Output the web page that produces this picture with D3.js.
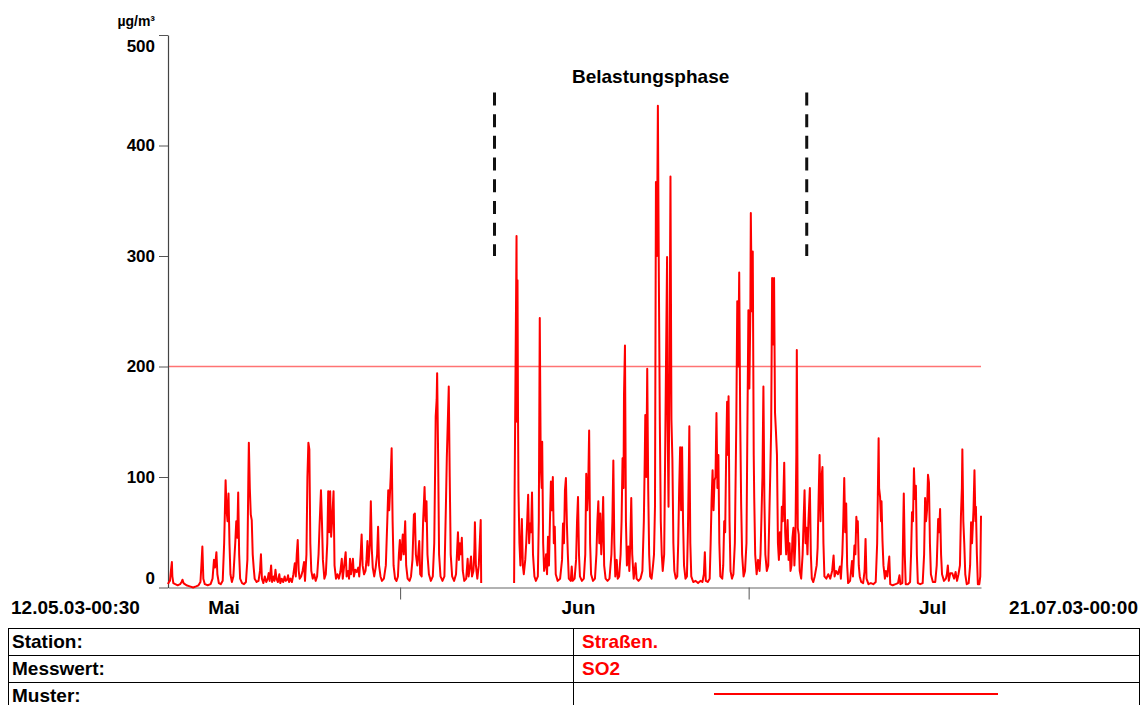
<!DOCTYPE html>
<html>
<head>
<meta charset="utf-8">
<script src="https://cdn.jsdelivr.net/npm/d3@7"></script>
<style>
  html, body { margin: 0; padding: 0; background: #fff; }
  svg { display: block; font-family: "Liberation Sans", Arial, sans-serif; font-weight: bold; }
</style>
</head>
<body>
<svg id="chart" width="1141" height="705"></svg>
<script>
// Half-hourly SO2 record, station "Straßen.", 12.05.2003 00:30 – 21.07.2003 00:00
// Points: [hours since 12.05.03 00:30, µg/m³]
const so2Mai = [
[0,3],[2,5],[4,6],[6,15],[8,23],[9,10],[11,4],[15,3],[20,2],[25,3],[28,5],[30,7],[32,4],[38,2],[45,1],[52,0],[58,1],[63,2],[67,5],[69,20],[71,37],[73,8],[76,3],[82,2],[88,3],[92,8],[95,25],[97,18],[100,32],[102,12],[105,4],[109,3],[113,6],[116,40],[119,97],[121,70],[123,60],[125,85],[127,40],[129,12],[132,5],[135,10],[139,41],[141,60],[143,45],[145,86],[147,30],[149,8],[153,4],[157,3],[161,5],[164,25],[166,100],[167,131],[169,90],[171,66],[173,61],[175,30],[177,18],[179,8],[183,5],[187,6],[190,15],[192,30],[194,8],[197,4],[200,10],[203,5],[206,8],[208,13],[210,6],[213,20],[215,5],[218,10],[220,6],[222,16],[224,8],[227,5],[230,12],[232,4],[235,8],[238,5],[241,10],[243,6],[246,7],[248,11],[250,5],[253,8],[256,5],[259,12],[262,22],[264,10],[266,30],[268,43],[270,15],[272,8],[275,10],[278,15],[281,23],[283,6],[286,30],[288,100],[290,131],[292,125],[294,40],[296,15],[299,8],[302,12],[305,6],[308,10],[311,30],[313,55],[316,88],[318,60],[320,25],[323,8],[326,12],[329,40],[331,87],[333,50],[335,87],[337,46],[339,60],[342,87],[344,20],[347,8],[350,12],[353,8],[356,14],[359,26],[361,8],[364,20],[367,32],[369,10],[372,15],[374,8],[376,26],[378,12],[380,18],[382,26],[384,10],[387,16],[390,14],[393,18],[395,10],[398,30],[400,48],[402,20],[405,12],[408,15],[410,25],[412,42],[414,20],[417,40],[419,78],[421,35],[423,18],[426,10],[429,18],[432,30],[434,55],[436,20],[439,10],[442,6],[446,8],[450,20],[453,60],[455,88],[457,70],[460,100],[462,126],[464,60],[466,20],[469,8],[472,6],[475,10],[477,30],[479,43],[481,25],[483,35],[485,48],[487,30],[490,60],[492,20],[495,8],[499,6],[502,10],[505,25],[508,66],[510,67],[512,30],[515,20],[517,30],[519,42],[521,12],[524,10],[527,60],[529,80],[530,91],[532,60],[534,78],[536,30],[539,12],[543,6],[547,10],[550,40],[552,113],[553,155],[555,170],[556,194],[558,120],[560,30],[563,10],[567,6],[571,10],[574,72],[576,118],[578,150],[580,182],[582,100],[584,30],[587,10],[591,6],[595,12],[597,31],[599,50],[601,25],[603,40],[605,30],[607,45],[609,15],[612,6],[616,8],[619,26],[621,10],[624,20],[626,28],[628,10],[631,15],[633,35],[634,59],[636,20],[639,8],[642,20],[644,40],[646,61],[647,4]
];
const so2Jun = [
[715,4],[716,84],[718,200],[720,318],[721,150],[722,278],[723,160],[724,88],[726,40],[728,20],[731,62],[733,20],[735,12],[738,25],[740,40],[742,60],[744,84],[746,40],[748,58],[750,50],[752,86],[754,30],[757,10],[760,6],[764,10],[766,60],[768,244],[770,110],[772,90],[773,132],[775,40],[777,15],[779,20],[781,30],[783,12],[785,46],[787,20],[789,60],[791,96],[793,70],[795,100],[797,40],[799,55],[801,12],[805,6],[810,8],[814,25],[816,58],[818,40],[820,88],[822,99],[824,58],[826,30],[828,8],[832,6],[834,19],[836,6],[840,8],[843,25],[845,60],[847,82],[849,30],[851,10],[855,6],[859,8],[862,30],[864,103],[866,70],[868,90],[870,142],[872,40],[874,12],[878,6],[882,8],[885,30],[887,60],[889,78],[891,40],[893,67],[895,30],[897,50],[899,82],[901,20],[904,8],[908,6],[912,8],[916,30],[918,60],[920,115],[922,40],[924,10],[927,25],[929,8],[932,10],[935,30],[937,60],[939,117],[941,90],[942,174],[944,219],[946,60],[948,20],[951,37],[953,15],[955,40],[957,81],[959,30],[962,8],[966,22],[968,8],[972,6],[976,8],[980,15],[983,60],[985,120],[986,156],[988,100],[990,198],[992,90],[994,30],[996,10],[999,8],[1002,20],[1004,30],[1006,73],[1008,367],[1010,300],[1012,436],[1014,281],[1016,150],[1018,60],[1020,30],[1022,15],[1025,30],[1027,120],[1029,213],[1031,299],[1032,152],[1034,73],[1036,200],[1038,372],[1040,152],[1042,115],[1044,40],[1046,15],[1049,8],[1052,10],[1054,40],[1056,90],[1058,127],[1060,70],[1062,127],[1064,60],[1066,20],[1069,8],[1072,10],[1074,50],[1076,110],[1077,146],[1079,40],[1081,10],[1085,5],[1090,6],[1095,4],[1100,6],[1104,5],[1107,12],[1109,32],[1111,6],[1115,5],[1119,8],[1121,40],[1123,80],[1125,106],[1127,70],[1129,97],[1131,100],[1133,158],[1135,90],[1137,120],[1139,40],[1141,10],[1145,8],[1147,20],[1149,60],[1151,50],[1153,118],[1155,168],[1157,120],[1158,173],[1160,60],[1162,15],[1165,8],[1168,12],[1171,40],[1174,150],[1176,259],[1178,200],[1180,285],[1182,155],[1184,76],[1186,30],[1189,10],[1192,15],[1195,40],[1197,150],[1199,251],[1201,180],[1203,250],[1204,339],[1206,250],[1208,304],[1210,120],[1211,82],[1213,30],[1216,12],[1219,25],[1222,15],[1224,30],[1226,64],[1228,100],[1230,182],[1232,80],[1234,30],[1237,15],[1240,20],[1242,60],[1244,100],[1246,144],[1248,280],[1250,220],[1252,280],[1254,158],[1256,140],[1258,120],[1260,40],[1262,25],[1264,50],[1266,30],[1268,73],[1270,60],[1273,113],[1275,50],[1277,30],[1280,61],[1282,25],[1284,40],[1286,15]
];
const so2Jul = [
[1288,20],[1290,45],[1292,54],[1294,20],[1296,40],[1298,120],[1299,215],[1301,54],[1303,48],[1305,15],[1308,8],[1311,30],[1313,60],[1315,88],[1317,40],[1319,54],[1321,30],[1323,60],[1326,90],[1328,30],[1330,8],[1333,5],[1336,10],[1340,20],[1342,36],[1344,80],[1346,120],[1348,60],[1350,100],[1352,109],[1354,40],[1356,10],[1360,8],[1364,12],[1368,8],[1372,15],[1375,29],[1377,10],[1380,15],[1384,12],[1388,19],[1390,8],[1393,30],[1395,60],[1397,99],[1399,50],[1401,76],[1403,20],[1405,4],[1409,6],[1411,15],[1413,24],[1415,10],[1418,38],[1420,30],[1422,64],[1424,50],[1425,60],[1427,20],[1429,10],[1432,5],[1436,4],[1439,15],[1441,44],[1443,8],[1447,3],[1452,4],[1457,3],[1462,5],[1465,40],[1468,135],[1469,90],[1471,82],[1473,60],[1474,78],[1476,42],[1478,20],[1481,8],[1483,15],[1486,10],[1488,20],[1490,28],[1492,3],[1497,2],[1503,3],[1508,4],[1511,11],[1513,3],[1517,4],[1519,60],[1520,85],[1522,30],[1524,3],[1529,3],[1533,5],[1535,30],[1537,68],[1539,60],[1541,108],[1543,80],[1545,92],[1547,30],[1549,4],[1554,3],[1559,4],[1562,30],[1564,81],[1566,60],[1568,70],[1570,102],[1572,95],[1574,40],[1576,12],[1580,5],[1585,5],[1588,20],[1591,62],[1593,50],[1595,71],[1597,30],[1599,12],[1603,6],[1607,8],[1609,12],[1611,20],[1613,6],[1616,13],[1620,13],[1624,8],[1627,14],[1630,6],[1633,12],[1636,20],[1638,64],[1640,90],[1641,125],[1643,60],[1645,39],[1647,12],[1650,3],[1654,4],[1657,20],[1659,59],[1661,40],[1664,70],[1666,106],[1668,60],[1669,73],[1671,30],[1673,3],[1676,3],[1678,10],[1679.5,65]
];

const yTicks = [0, 100, 200, 300, 400, 500];
const unitLabel = "µg/m³";
const limitValue = 200;
const phaseLabel = "Belastungsphase";
const phaseBounds = [Date.UTC(2003, 5, 9, 3, 0), Date.UTC(2003, 6, 6, 0, 0)];
const phaseMarkerRange = [300, 448];
const monthNames = ["Mai", "Jun", "Jul"];
const rangeLabels = ["12.05.03-00:30", "21.07.03-00:00"];
const tableRows = [
  ["Station:", "Straßen."],
  ["Messwert:", "SO2"],
  ["Muster:", null]
];

const tStart = Date.UTC(2003, 4, 12, 0, 30);
const tEnd = Date.UTC(2003, 6, 21, 0, 0);
const atHour = h => new Date(tStart + h * 3600000);

const svg = d3.select("#chart");
const RED = "#ff0000";

const x = d3.scaleUtc().domain([new Date(tStart), new Date(tEnd)]).range([168, 981]);
const y = d3.scaleLinear().domain([0, 500]).range([587.5, 35]);

// limit line
svg.append("line")
  .attr("x1", x.range()[0]).attr("x2", x.range()[1])
  .attr("y1", y(limitValue)).attr("y2", y(limitValue))
  .attr("stroke", RED).attr("stroke-opacity", 0.55).attr("stroke-width", 1.5);

// x axis baseline and month ticks
const xAxis = svg.append("g").attr("transform", `translate(0,${y(0)})`)
  .call(d3.axisBottom(x)
    .tickValues([new Date(Date.UTC(2003, 5, 1)), new Date(Date.UTC(2003, 6, 1))])
    .tickSize(12).tickSizeOuter(0).tickFormat(""));
xAxis.select(".domain").attr("stroke", "#666").attr("stroke-width", 1.2);
xAxis.selectAll(".tick line").attr("stroke", "#555");

// y axis
const yAxis = svg.append("g").attr("transform", `translate(${x.range()[0]},0)`)
  .call(d3.axisLeft(y).tickValues(yTicks).tickSize(9).tickSizeOuter(0).tickPadding(4));
yAxis.select(".domain").attr("stroke", "#444").attr("stroke-width", 1.2);
yAxis.selectAll(".tick line").attr("stroke", "#555");
yAxis.selectAll(".tick text")
  .attr("fill", "#000")
  .style("font-size", "17px")
  .style("font-weight", "bold")
  .style("font-family", "'Liberation Sans', Arial, sans-serif")
  .attr("dy", d => d === 0 ? "-0.25em" : d === 500 ? "0.95em" : "0.32em");

svg.append("text").attr("x", 155).attr("y", 26).attr("text-anchor", "end")
  .style("font-size", "14px").text(unitLabel);

// measured series
const line = d3.line().x(d => x(atHour(d[0]))).y(d => y(d[1]));
[so2Mai, so2Jun.concat(so2Jul)].forEach(seg => {
  svg.append("path").datum(seg)
    .attr("d", line)
    .attr("fill", "none")
    .attr("stroke", RED)
    .attr("stroke-width", 2)
    .attr("stroke-linejoin", "round");
});

// phase markers
phaseBounds.forEach(t => {
  svg.append("line")
    .attr("x1", x(new Date(t))).attr("x2", x(new Date(t)))
    .attr("y1", y(phaseMarkerRange[1])).attr("y2", y(phaseMarkerRange[0]))
    .attr("stroke", "#111").attr("stroke-width", 3)
    .attr("stroke-dasharray", "13,8.7");
});
svg.append("text")
  .attr("x", (x(new Date(phaseBounds[0])) + x(new Date(phaseBounds[1]))) / 2)
  .attr("y", 83).attr("text-anchor", "middle")
  .style("font-size", "19px").text(phaseLabel);

// month labels centred in each month
monthNames.forEach((name, i) => {
  const m0 = Date.UTC(2003, 4 + i, 1), m1 = Date.UTC(2003, 5 + i, 1);
  svg.append("text")
    .attr("x", x(new Date((m0 + m1) / 2)) + 4).attr("y", 614)
    .attr("text-anchor", "middle").style("font-size", "19px").text(name);
});
svg.append("text").attr("x", 11).attr("y", 614).style("font-size", "19px").text(rangeLabels[0]);
svg.append("text").attr("x", 1138).attr("y", 614).attr("text-anchor", "end")
  .style("font-size", "19px").text(rangeLabels[1]);

// legend table
const tbl = { x0: 8, x1: 1139, xm: 573, y0: 628, rowH: 27 };
const tg = svg.append("g");
tg.append("rect").attr("x", tbl.x0 + 0.5).attr("y", tbl.y0 + 0.5)
  .attr("width", tbl.x1 - tbl.x0).attr("height", tbl.rowH * tableRows.length)
  .attr("fill", "none").attr("stroke", "#000");
tg.append("line").attr("x1", tbl.xm + 0.5).attr("x2", tbl.xm + 0.5)
  .attr("y1", tbl.y0).attr("y2", tbl.y0 + tbl.rowH * tableRows.length).attr("stroke", "#000");
tableRows.forEach((r, i) => {
  const top = tbl.y0 + i * tbl.rowH;
  if (i > 0) tg.append("line").attr("x1", tbl.x0).attr("x2", tbl.x1)
    .attr("y1", top + 0.5).attr("y2", top + 0.5).attr("stroke", "#000");
  tg.append("text").attr("x", tbl.x0 + 4).attr("y", top + 20)
    .style("font-size", "19px").text(r[0]);
  if (r[1] !== null) {
    tg.append("text").attr("x", tbl.xm + 9).attr("y", top + 20)
      .attr("fill", RED).style("font-size", "19px").text(r[1]);
  } else {
    tg.append("line").attr("x1", 714).attr("x2", 998)
      .attr("y1", top + 12).attr("y2", top + 12)
      .attr("stroke", RED).attr("stroke-width", 2);
  }
});
</script>
</body>
</html>
